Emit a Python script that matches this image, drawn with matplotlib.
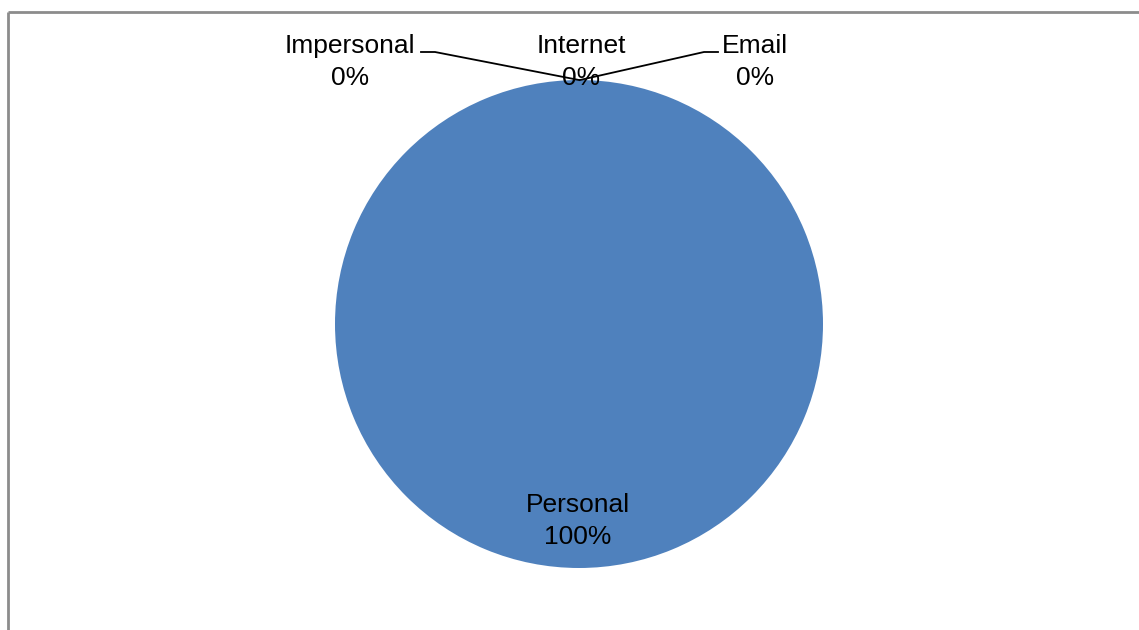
import matplotlib
matplotlib.use("Agg")
import matplotlib.pyplot as plt

# Contact channel shares (percent)
categories = ["Personal", "Impersonal", "Internet", "Email"]
shares = [100, 0, 0, 0]
colors = ["#4F81BD", "#C0504D", "#9BBB59", "#8064A2"]

plt.rcParams["font.family"] = ["Liberation Sans", "DejaVu Sans"]

W, H = 1139, 630
fig = plt.figure(figsize=(W / 100, H / 100), dpi=100)
ax = fig.add_axes([0, 0, 1, 1])

cx, cy, r = 579, 324, 244
ax.pie(shares, colors=colors, center=(cx, cy), radius=r, startangle=90,
       counterclock=False, frame=True,
       wedgeprops=dict(linewidth=0))
ax.set_xlim(0, W)
ax.set_ylim(H, 0)
ax.set_aspect("equal")
ax.axis("off")

# Chart area frame (top and left edges visible)
ax.plot([8, W], [12, 12], color="#8c8c8c", lw=2.0, solid_capstyle="butt")
ax.plot([8, 8], [12, H], color="#8c8c8c", lw=2.0, solid_capstyle="butt")

fs = 19
ls = 1.38
labels = [f"{c}\n{v:.0f}%" for c, v in zip(categories, shares)]

# Personal label inside the pie
ax.text(578, 521, labels[0], ha="center", va="center", fontsize=fs,
        linespacing=ls)

# Zero-share labels above the pie with leader lines
ax.text(350, 62, labels[1], ha="center", va="center", fontsize=fs,
        linespacing=ls)
ax.text(581, 62, labels[2], ha="center", va="center", fontsize=fs,
        linespacing=ls)
ax.text(755, 62, labels[3], ha="center", va="center", fontsize=fs,
        linespacing=ls)

ax.plot([421, 435, 579], [52, 52, 80], color="black", lw=1.3)
ax.plot([718, 704, 580], [52, 52, 80], color="black", lw=1.3)

fig.savefig("out.png", dpi=100)
